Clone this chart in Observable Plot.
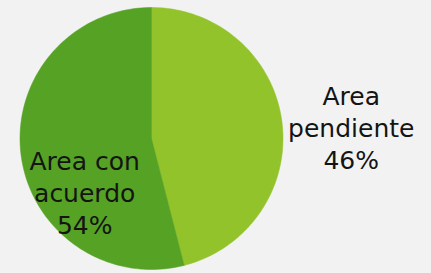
<!DOCTYPE html>
<html>
<head>
<meta charset="utf-8">
<script src="https://cdn.jsdelivr.net/npm/d3@7"></script>
<script src="https://cdn.jsdelivr.net/npm/@observablehq/plot@0.6"></script>
<style>
  html, body { margin: 0; padding: 0; background: #f2f2f2; }
  #chart { width: 431px; height: 273px; }
</style>
</head>
<body>
<div id="chart"></div>
<script>
// Data
const categories = ["Area pendiente", "Area con acuerdo"];
const values = [46, 54];
const labelTexts = ["Area\npendiente\n46%", "Area con\nacuerdo\n54%"];
const colors = ["#93c32a", "#55a225"];
// label anchors in pie-radius units (x right, y up)
const labelX = [1.519, -0.508];
const labelY = [0.092, -0.407];

// Build slice polygons (unit circle, clockwise from 12 o'clock)
const arcs = d3.pie().sort(null).value(d => d.value)(
  categories.map((c, i) => ({ cat: c, value: values[i] }))
);
const pts = [];
for (const a of arcs) {
  const cat = a.data.cat;
  pts.push({ cat, x: 0, y: 0 });
  const n = 120;
  for (let k = 0; k <= n; k++) {
    const t = a.startAngle + (a.endAngle - a.startAngle) * k / n;
    pts.push({ cat, x: Math.sin(t), y: Math.cos(t) });
  }
  pts.push({ cat, x: 0, y: 0 });
}
const labels = categories.map((c, i) => ({ cat: c, text: labelTexts[i], x: labelX[i], y: labelY[i] }));

const chart = Plot.plot({
  width: 431,
  height: 273,
  margin: 0,
  style: { background: "#f2f2f2", fontFamily: "DejaVu Sans, sans-serif" },
  x: { domain: [-1, 1], range: [19.5, 282.5], axis: null },
  y: { domain: [-1, 1], range: [269, 7], axis: null },
  color: { domain: categories, range: colors },
  marks: [
    Plot.line(pts, { x: "x", y: "y", z: "cat", fill: "cat", stroke: "cat", strokeWidth: 0.5, curve: "linear" }),
    Plot.text(labels, {
      x: "x", y: "y", text: "text",
      fontSize: 25, lineHeight: 1.29, fill: "#141414",
      textAnchor: "middle", lineAnchor: "middle"
    })
  ]
});
document.getElementById("chart").appendChild(chart);
</script>
</body>
</html>
